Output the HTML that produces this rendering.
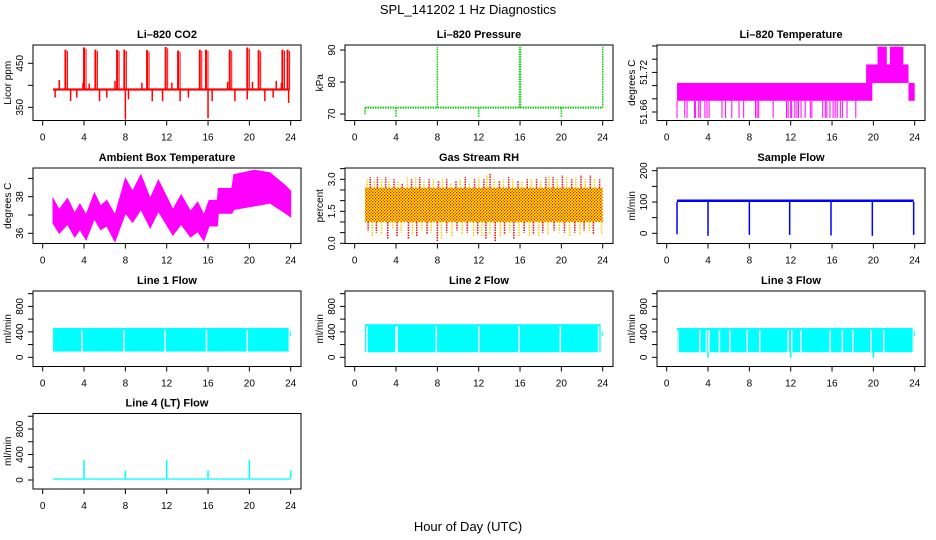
<!DOCTYPE html>
<html><head><meta charset="utf-8">
<style>
html,body{margin:0;padding:0;background:#fff;}
svg{display:block;font-family:"Liberation Sans",Arial,sans-serif;}
</style></head>
<body>
<svg id="chart" width="936" height="540" viewBox="0 0 936 540" xmlns="http://www.w3.org/2000/svg">
<defs>
<pattern id="rhpat" width="3" height="3" patternUnits="userSpaceOnUse">
<rect width="3" height="3" fill="#ffff00"/><rect x="0" y="0" width="1.3" height="1.3" fill="#ff0000"/><rect x="1.5" y="1.5" width="1.3" height="1.3" fill="#ff0000"/>
</pattern>
</defs>
<text x="468" y="14" text-anchor="middle" font-size="13">SPL_141202  1 Hz Diagnostics</text>
<text x="468" y="531" text-anchor="middle" font-size="13">Hour of Day (UTC)</text>
</svg>
<script>
// ---- data ----
const xTicks = [0,4,8,12,16,20,24];
const co2Base = [388, 393];
const co2UpHours = [2.2,4.0,5.1,7.2,7.9,10.1,11.9,13.1,15.2,15.8,18.1,19.8,20.9,23.2,23.7];
const co2UpVals = [481,486,481,481,481,480,487,479,481,481,481,486,480,481,481];
const co2SmallHours = [1.6,3.9,4.5,7.0,9.6,12.5,13.1,17.9,20.3,22.6,23.1];
const co2SmallVals = [412,406,404,410,406,406,408,408,408,410,406];
const co2DownHours = [1.2,2.7,3.3,5.5,6.2,8.0,8.3,10.6,11.6,13.3,14.1,16.0,16.4,18.6,19.8,21.5,22.3,23.8];
const co2DownVals = [372,364,372,364,372,322,368,364,364,364,372,325,364,364,368,364,372,360];
const presBase = 72;
const presSpikeHours = [1,4,8,12,16,20,24];
const presSpikeVals = [70,69,91,69,91,69,91];
const tempSegStart = [1.0,19.3,20.4,21.6,23.4];
const tempSegEnd = [19.9,23.4,21.3,22.9,24.0];
const tempSegLow = [51.677,51.704,51.732,51.732,51.677];
const tempSegHigh = [51.704,51.732,51.759,51.759,51.704];
const tempDipHours = [1.0,1.75,1.97,2.7,2.8,3.1,3.25,3.7,3.9,4.1,5.35,5.7,6.3,7.0,7.45,8.6,8.75,8.9,10.3,11.6,11.75,12.0,12.1,12.4,12.6,12.75,13.0,13.4,13.9,14.05,15.1,15.35,15.5,15.8,16.1,16.3,16.5,16.8,17.0,17.45,18.3];
const tempDipVal = 51.651;
const ambHours = [1.0,1.6,2.4,3.1,3.6,4.2,5.0,5.6,6.2,7.0,8.0,8.7,9.5,10.4,11.2,12.6,13.4,14.3,15.0,15.6,16.1,16.9,17.0,18.3,18.5,20.5,22.0,23.5,24.0];
const ambUpper = [37.9,37.3,37.9,37.1,37.6,37.0,38.2,37.5,37.8,37.0,39.0,38.3,39.2,37.9,38.9,37.3,38.1,37.2,37.7,37.0,37.8,37.8,38.45,38.45,39.2,39.45,39.3,38.6,38.3];
const ambLower = [36.55,36.0,36.5,35.8,36.2,35.65,36.8,36.2,36.4,35.55,37.1,36.6,37.3,36.3,37.2,35.9,36.5,35.8,36.1,35.6,36.4,36.4,37.1,37.1,37.3,37.5,37.65,37.1,36.9];
const rhCore = [1.0, 2.6];
const rhPeakHours = [1.2,1.5,1.9,2.2,2.6,3.0,3.3,3.8,4.2,4.6,5.1,5.5,5.9,6.3,6.7,7.2,7.6,8.1,8.5,8.9,9.3,9.8,10.2,10.7,11.1,11.6,12.0,12.5,12.8,13.1,13.5,14.0,14.4,14.9,15.3,15.8,16.2,16.7,17.1,17.6,18.0,18.5,18.8,19.2,19.6,20.1,20.5,21.0,21.4,21.9,22.3,22.8,23.2,23.7];
const rhPeakVals = [3.0,3.1,2.9,3.1,3.0,3.1,2.9,3.0,2.9,2.8,3.1,3.0,3.1,3.1,2.9,3.0,3.0,2.9,3.0,3.0,2.8,2.9,3.0,3.1,2.8,3.0,3.1,3.0,3.2,3.3,3.0,2.9,3.0,3.1,3.0,2.9,2.9,3.0,3.0,3.0,2.9,3.1,3.2,3.1,3.0,3.2,3.1,3.0,3.1,3.2,3.0,3.2,3.0,3.0];
const rhLowHours = [1.3,1.7,2.1,2.6,3.2,3.7,4.1,4.5,5.2,5.6,6.0,6.5,7.0,7.4,8.0,8.4,8.9,9.4,9.9,10.4,10.9,11.5,11.9,12.3,12.7,13.1,13.6,14.1,14.5,15.0,15.4,15.9,16.4,16.9,17.3,17.8,18.2,18.7,19.3,19.8,20.3,20.8,21.3,21.8,22.2,22.7,23.1,23.9];
const rhLowVals = [0.6,0.3,0.5,0.4,0.2,0.7,0.3,0.5,0.2,0.4,0.3,0.6,0.4,0.5,0.1,0.2,0.5,0.3,0.6,0.4,0.5,0.3,0.4,0.3,0.2,0.4,0.1,0.3,0.4,0.5,0.2,0.3,0.5,0.3,0.4,0.3,0.5,0.4,0.6,0.5,0.5,0.3,0.5,0.4,0.6,0.5,0.4,0.4];
const flowBase = [100, 108];
const flowDipHours = [1.0,4.0,8.0,11.9,15.9,19.9,23.9];
const flowDipVals = [-3,-8,-5,-5,-7,-8,-5];
const line1Band = [90, 460];
const line1Gaps = [3.8,7.85,11.85,15.85,19.8];
const line2Band = [80, 520];
const line2Gaps = [1.2,4.0,4.1,7.9,12.0,15.9,19.9,23.6];
const line3Band = [80, 460];
const line3Gaps = [1.1,3.2,3.85,4.1,5.1,6.1,7.8,9.0,11.75,12.1,13.0,15.8,17.0,18.0,19.75,21.0];
const line3DipHours = [4.0,12.0,20.0];
const line3DipVals = [-10,-10,-10];
const line4Base = [5, 25];
const line4SpikeHours = [4.0,8.0,12.0,16.0,20.0,24.0];
const line4SpikeVals = [310,150,310,150,310,150];

// ---- layout ----
const svg = document.getElementById('chart');
const NS = 'http://www.w3.org/2000/svg';
const COLX = [0,312,624];
const ROWY = [45,168,291,413.5];
const BH = 75.5;
function mk(tag, attrs, parent){
  const e = document.createElementNS(NS, tag);
  for (const k in attrs) e.setAttribute(k, attrs[k]);
  (parent||svg).appendChild(e);
  return e;
}
function xScale(col){ return h => COLX[col] + 42.7 + h*248/24; }
function yScale(row, v0, p0, v1, p1){ const T = ROWY[row]; return v => T + p0 + (v - v0)*(p1 - p0)/(v1 - v0); }

function panel(name, col, row, title, ylab, ticks, labels, ys){
  const g = mk('g', {});
  
  
  const L = COLX[col]+33, R = COLX[col]+301, T = ROWY[row], B = T+BH;
  const t = mk('text', {x:(L+R)/2, y:T-7, 'text-anchor':'middle','font-size':11,'font-weight':'bold'}, g);
  t.textContent = title;
  
  
  const xs = xScale(col);
  xTicks.forEach(h => {
    const x = xs(h);
    const tk = mk('line', {x1:x, x2:x, y1:B, y2:B+5, stroke:'#000'}, g);
    
    
    const tl = mk('text', {x:x, y:B+20, 'text-anchor':'middle','font-size':10}, g);
    tl.textContent = h;
    
    
  });
  ticks.forEach((v,i) => {
    const y = ys(v);
    const tk = mk('line', {x1:L-5, x2:L, y1:y, y2:y, stroke:'#000'}, g);
    
    
    if (labels[i] !== '') {
      const tl = mk('text', {x:0, y:0, 'text-anchor':'middle','font-size':10, transform:`translate(${L-10},${y}) rotate(-90)`}, g);
      tl.textContent = labels[i];
      
      
    }
  });
  const yl = mk('text', {x:0, y:0, 'text-anchor':'middle','font-size':10, transform:`translate(${L-22},${T+BH/2}) rotate(-90)`}, g);
  yl.textContent = ylab;
  
  
  const plot = mk('g', {}, g);
  
  
  const box = mk('rect', {x:L, y:T, width:R-L, height:BH, fill:'none', stroke:'#000'}, g);
  
  
  return {g:plot, xs, ys};
}
function vline(p, x, y1, y2, color, w, name, dash){
  const a = {x1:x, x2:x, y1:y1, y2:y2, stroke:color, 'stroke-width':w||1};
  if (dash) a['stroke-dasharray'] = dash;
  const l = mk('line', a, p);
  
  
  return l;
}
function band(p, h0, h1, v0, v1, xs, ys, fill, name){
  const r = mk('rect', {x:xs(h0), y:Math.min(ys(v0),ys(v1)), width:xs(h1)-xs(h0), height:Math.abs(ys(v1)-ys(v0)), fill:fill}, p);
  
  
  return r;
}

// CO2
(function(){
  const P = panel('co2', 0, 0, 'Li\u2013820 CO2', 'Licor ppm', [350,400,450], ['350','','450'], yScale(0,350,62.3,450,18.3));
  band(P.g, 1.0, 23.9, co2Base[0], co2Base[1], P.xs, P.ys, '#ff0000', 'co2-baseline');
  co2UpHours.forEach((h,i)=>{ const x=P.xs(h); vline(P.g,x,P.ys(390),P.ys(co2UpVals[i]),'#ff0000',2,'co2-spike'); vline(P.g,x+2,P.ys(390),P.ys(co2UpVals[i]-3),'#ff0000',1,'co2-spike'); });
  co2SmallHours.forEach((h,i)=>vline(P.g,P.xs(h),P.ys(390),P.ys(co2SmallVals[i]),'#ff0000',1.5,'co2-small-spike'));
  co2DownHours.forEach((h,i)=>vline(P.g,P.xs(h),P.ys(390),P.ys(co2DownVals[i]),'#ff0000',1.5,'co2-dip'));
})();

// Pressure
(function(){
  const P = panel('pressure', 1, 0, 'Li\u2013820 Pressure', 'kPa', [70,80,90], ['70','80','90'], yScale(0,70,69,90,5));
  const l = mk('line', {x1:P.xs(1), x2:P.xs(24), y1:P.ys(presBase), y2:P.ys(presBase), stroke:'#00cd00','stroke-width':2,'stroke-dasharray':'1.5 1'}, P.g);
  
  
  presSpikeHours.forEach((h,i)=>vline(P.g,P.xs(h),P.ys(presBase),P.ys(presSpikeVals[i]),'#00cd00',h===16?2.5:1.5,'pressure-spike','1.5 1'));
})();

// Li-820 Temperature
(function(){
  const P = panel('li820-temp', 2, 0, 'Li\u2013820 Temperature', 'degrees C', [51.66,51.68,51.70,51.72,51.74,51.76], ['51.66','','','51.72','',''], yScale(0,51.66,67,51.76,1));
  tempSegStart.forEach((s,i)=>band(P.g, s, tempSegEnd[i], tempSegLow[i], tempSegHigh[i], P.xs, P.ys, '#ff00ff', 'temp-level'));
  tempDipHours.forEach(h=>vline(P.g,P.xs(h),P.ys(tempSegLow[0]),P.ys(tempDipVal),'#ff00ff',1,'temp-dip'));
})();

// Ambient
(function(){
  const P = panel('ambient-temp', 0, 1, 'Ambient Box Temperature', 'degrees C', [36,37,38,39], ['36','','38',''], yScale(1,36,65.3,38,28.7));
  let d = '';
  ambHours.forEach((h,i)=>{ d += (i?'L':'M') + P.xs(h).toFixed(1) + ' ' + P.ys(ambUpper[i]).toFixed(1) + ' '; });
  for (let i=ambHours.length-1;i>=0;i--) d += 'L' + P.xs(ambHours[i]).toFixed(1) + ' ' + P.ys(ambLower[i]).toFixed(1) + ' ';
  const p = mk('path', {d:d+'Z', fill:'#ff00ff', stroke:'#ff00ff'}, P.g);
  
  
})();

// RH
(function(){
  const P = panel('rh', 1, 1, 'Gas Stream RH', 'percent', [0,0.5,1,1.5,2,2.5,3,3.5], ['0.0','','','1.5','','','3.0',''], yScale(1,0,75.3,3,11.3));
  band(P.g, 1.0, 24, rhCore[0], rhCore[1], P.xs, P.ys, 'url(#rhpat)', 'rh-core-band');
  rhPeakHours.forEach((h,i)=>vline(P.g,P.xs(h),P.ys(rhCore[1]),P.ys(rhPeakVals[i]),i%2?'#ff0000':'#ffcc00',1.5,'rh-peak','1.5 1'));
  rhLowHours.forEach((h,i)=>vline(P.g,P.xs(h),P.ys(rhCore[0]),P.ys(rhLowVals[i]),i%2?'#ffcc00':'#ff0000',1.5,'rh-trough','1.5 1'));
})();

// Sample flow
(function(){
  const P = panel('sample-flow', 2, 1, 'Sample Flow', 'ml/min', [0,50,100,150,200], ['0','','100','','200'], yScale(1,0,65.3,200,2.7));
  band(P.g, 1.0, 23.9, flowBase[0], flowBase[1], P.xs, P.ys, '#0000ff', 'sample-flow-baseline');
  flowDipHours.forEach((h,i)=>vline(P.g,P.xs(h),P.ys(flowBase[0]),P.ys(flowDipVals[i]),'#0000ff',1.5,'sample-flow-dip'));
})();

// Line flows
function linePanel(name, col, row, title, bnd, gaps){
  const P = panel(name, col, row, title, 'ml/min', [0,200,400,600,800,1000], ['0','','400','','800',''], yScale(row,0,66.3,800,15.4));
  band(P.g, 1.0, 23.8, bnd[0], bnd[1], P.xs, P.ys, '#00ffff', name + '-band');
  band(P.g, 23.9, 24.0, 330, 410, P.xs, P.ys, '#00ffff', name + '-end');
  gaps.forEach(h=>vline(P.g,P.xs(h),P.ys(bnd[0]),P.ys(bnd[1]-30),'#ffffff',1.5,name + '-gap'));
  return P;
}
linePanel('line1-flow', 0, 2, 'Line 1 Flow', line1Band, line1Gaps);
linePanel('line2-flow', 1, 2, 'Line 2 Flow', line2Band, line2Gaps);
(function(){
  const P = linePanel('line3-flow', 2, 2, 'Line 3 Flow', line3Band, line3Gaps);
  line3DipHours.forEach((h,i)=>vline(P.g,P.xs(h),P.ys(line3Band[0]),P.ys(line3DipVals[i]),'#00ffff',1.5,'line3-dip'));
})();
(function(){
  const P = panel('line4-flow', 0, 3, 'Line 4 (LT) Flow', 'ml/min', [0,200,400,600,800,1000], ['0','','400','','800',''], yScale(3,0,66.5,800,15.5));
  band(P.g, 1.0, 24.0, line4Base[0], line4Base[1], P.xs, P.ys, '#00ffff', 'line4-baseline');
  line4SpikeHours.forEach((h,i)=>{ vline(P.g,P.xs(h),P.ys(line4Base[1]),P.ys(line4SpikeVals[i]),'#00ffff',1.5,'line4-spike'); });
})();
</script>
</body></html>
